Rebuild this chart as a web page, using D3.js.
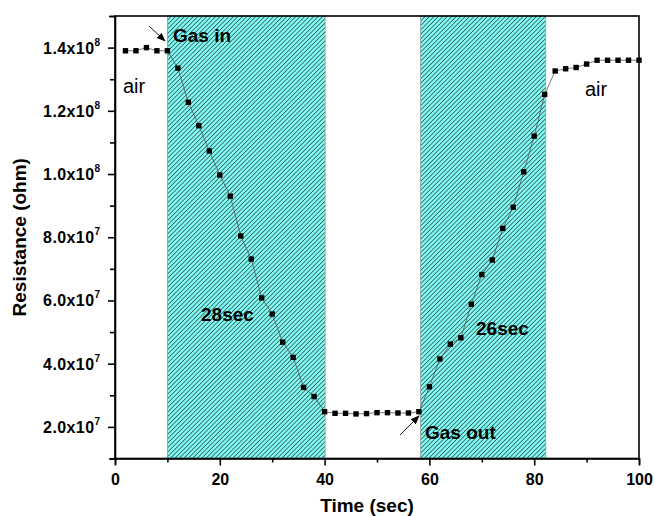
<!DOCTYPE html>
<html>
<head>
<meta charset="utf-8">
<script src="https://cdn.jsdelivr.net/npm/d3@7"></script>
<style>
  body { margin: 0; background: #fff; }
  svg { font-family: "Liberation Sans", Arial, sans-serif; }
</style>
</head>
<body>
<div id="chart"></div>
<script>
// time (sec) and resistance (ohm)
var times = [2, 4, 6, 8, 10, 12, 14, 16, 18, 20, 22, 24, 26, 28, 30, 32, 34, 36, 38, 40,
             42, 44, 46, 48, 50, 52, 54, 56, 58, 60, 62, 64, 66, 68, 70, 72, 74, 76, 78, 80,
             82, 84, 86, 88, 90, 92, 94, 96, 98, 100];
var resistance = [1.39e8, 1.39e8, 1.40e8, 1.39e8, 1.39e8, 1.335e8, 1.227e8, 1.153e8, 1.073e8, 0.997e8,
                  0.93e8, 0.804e8, 0.731e8, 0.608e8, 0.557e8, 0.468e8, 0.420e8, 0.325e8, 0.296e8, 0.248e8,
                  0.243e8, 0.243e8, 0.241e8, 0.242e8, 0.245e8, 0.245e8, 0.244e8, 0.244e8, 0.248e8, 0.327e8,
                  0.415e8, 0.462e8, 0.482e8, 0.588e8, 0.682e8, 0.728e8, 0.828e8, 0.895e8, 1.007e8, 1.12e8,
                  1.252e8, 1.326e8, 1.333e8, 1.337e8, 1.348e8, 1.36e8, 1.36e8, 1.36e8, 1.36e8, 1.36e8];
// gas exposure windows (sec)
var gasWindows = [[10, 40.1], [58.3, 82.2]];
var xTicks = [0, 20, 40, 60, 80, 100];
var yTicks = [2e7, 4e7, 6e7, 8e7, 1e8, 1.2e8, 1.4e8];

(function(){
    var w = 654, h = 516,
        mLeft = 115, mRight = 639, mTop = 16, mBottom = 458.5;

    var svg = d3.select('#chart').append('svg')
        .attr('width', w)
        .attr('height', h);

    var x = d3.scaleLinear().domain([0, 100]).range([mLeft, mRight]);
    var y = d3.scaleLinear().domain([1e7, 1.5e8]).range([mBottom, mTop]);

    var defs = svg.append('defs');
    defs.append('pattern')
        .attr('id', 'hatch')
        .attr('patternUnits', 'userSpaceOnUse')
        .attr('width', 3.15)
        .attr('height', 3.15)
        .attr('patternTransform', 'rotate(45)')
        .call(function(p){
            p.append('rect').attr('width', 3.15).attr('height', 3.15).attr('fill', '#80fbf4');
            p.append('line').attr('x1', 0).attr('y1', 0).attr('x2', 0).attr('y2', 3.15)
                .attr('stroke', '#1a1a1a').attr('stroke-width', 1.15);
        });
    defs.append('marker')
        .attr('id', 'arrow')
        .attr('viewBox', '0 0 10 10')
        .attr('refX', 9).attr('refY', 5)
        .attr('markerWidth', 9).attr('markerHeight', 9)
        .attr('markerUnits', 'userSpaceOnUse')
        .attr('orient', 'auto')
        .append('path').attr('d', 'M0,1 L10,5 L0,9 Z').attr('fill', '#000');

    // shaded gas windows
    svg.selectAll('rect.gas')
        .data(gasWindows)
        .enter()
        .append('rect')
        .attr('class', 'gas')
        .attr('x', function(d){ return x(d[0]); })
        .attr('y', mTop)
        .attr('width', function(d){ return x(d[1]) - x(d[0]); })
        .attr('height', mBottom - mTop)
        .attr('fill', 'url(#hatch)')
        .attr('stroke', '#999')
        .attr('stroke-width', 0.8);

    // frame
    svg.append('rect')
        .attr('x', mLeft).attr('y', mTop)
        .attr('width', mRight - mLeft).attr('height', mBottom - mTop)
        .attr('fill', 'none').attr('stroke', '#000').attr('stroke-width', 1.6);

    // axes
    var xAxis = d3.axisBottom(x).tickValues(d3.range(0, 101, 10)).tickSize(6).tickFormat(function(d){
        return xTicks.indexOf(d) >= 0 ? d : '';
    });
    var gx = svg.append('g').attr('transform', 'translate(0,' + mBottom + ')').call(xAxis);
    gx.select('.domain').attr('stroke-width', 1.6);
    gx.selectAll('.tick line').attr('stroke-width', 1.6)
        .attr('y2', function(d){ return xTicks.indexOf(d) >= 0 ? 7 : 4; });
    gx.selectAll('.tick text').attr('y', 15).attr('font-size', 16).attr('font-weight', 'bold')
        .attr('font-family', '"Liberation Sans", Arial, sans-serif').attr('fill', '#000');

    var yAxis = d3.axisLeft(y).tickValues(d3.range(1e7, 1.51e8, 1e7)).tickSize(6).tickFormat('');
    var gy = svg.append('g').attr('transform', 'translate(' + mLeft + ',0)').call(yAxis);
    gy.select('.domain').attr('stroke-width', 1.6);
    gy.selectAll('.tick line').attr('stroke-width', 1.6)
        .attr('x2', function(d){ return yTicks.some(function(t){ return Math.abs(t - d) < 1; }) ? -7 : -5; });

    // y tick labels like 1.4x10^8
    var yl = svg.append('g').selectAll('text')
        .data(yTicks)
        .enter()
        .append('text')
        .attr('x', 100)
        .attr('y', function(d){ return y(d) + 6; })
        .attr('text-anchor', 'end')
        .attr('font-size', 16)
        .attr('font-weight', 'bold');
    yl.append('tspan').attr('letter-spacing', 0.4).text(function(d){
        var e = Math.floor(Math.log10(d) + 1e-9);
        return (d / Math.pow(10, e)).toFixed(1) + 'x10';
    });
    yl.append('tspan').attr('dy', -8).attr('font-size', 10).text(function(d){
        return Math.floor(Math.log10(d) + 1e-9);
    });

    // axis titles
    svg.append('text')
        .attr('x', 367).attr('y', 512)
        .attr('text-anchor', 'middle')
        .attr('font-size', 19).attr('font-weight', 'bold')
        .text('Time (sec)');
    svg.append('text')
        .attr('transform', 'translate(26,' + ((mTop + mBottom) / 2) + ') rotate(-90)')
        .attr('text-anchor', 'middle')
        .attr('font-size', 19).attr('font-weight', 'bold')
        .text('Resistance (ohm)');

    // data line and markers
    var pts = times.map(function(t, i){ return [t, resistance[i]]; });
    svg.append('path')
        .datum(pts)
        .attr('fill', 'none')
        .attr('stroke', '#555')
        .attr('stroke-width', 0.8)
        .attr('d', d3.line().x(function(d){ return x(d[0]); }).y(function(d){ return y(d[1]); }));
    svg.selectAll('rect.pt')
        .data(pts)
        .enter()
        .append('rect')
        .attr('class', 'pt')
        .attr('x', function(d){ return x(d[0]) - 2.7; })
        .attr('y', function(d){ return y(d[1]) - 2.7; })
        .attr('width', 5.4).attr('height', 5.4)
        .attr('fill', '#000');

    // annotations
    function label(tx, ty, str, size, bold){
        svg.append('text').attr('x', tx).attr('y', ty)
            .attr('font-size', size).attr('font-weight', bold ? 'bold' : 'normal')
            .text(str);
    }
    label(123, 93, 'air', 20, false);
    label(585, 96, 'air', 20, false);
    label(173, 42, 'Gas in', 19, true);
    label(425, 439, 'Gas out', 19, true);
    label(201, 321, '28sec', 19, true);
    label(476, 335, '26sec', 19, true);

    svg.append('line')
        .attr('x1', 149).attr('y1', 26).attr('x2', 165).attr('y2', 41)
        .attr('stroke', '#000').attr('stroke-width', 0.9)
        .attr('marker-end', 'url(#arrow)');
    svg.append('line')
        .attr('x1', 400).attr('y1', 435).attr('x2', 419).attr('y2', 416)
        .attr('stroke', '#000').attr('stroke-width', 0.9)
        .attr('marker-end', 'url(#arrow)');
})();
</script>
</body>
</html>
